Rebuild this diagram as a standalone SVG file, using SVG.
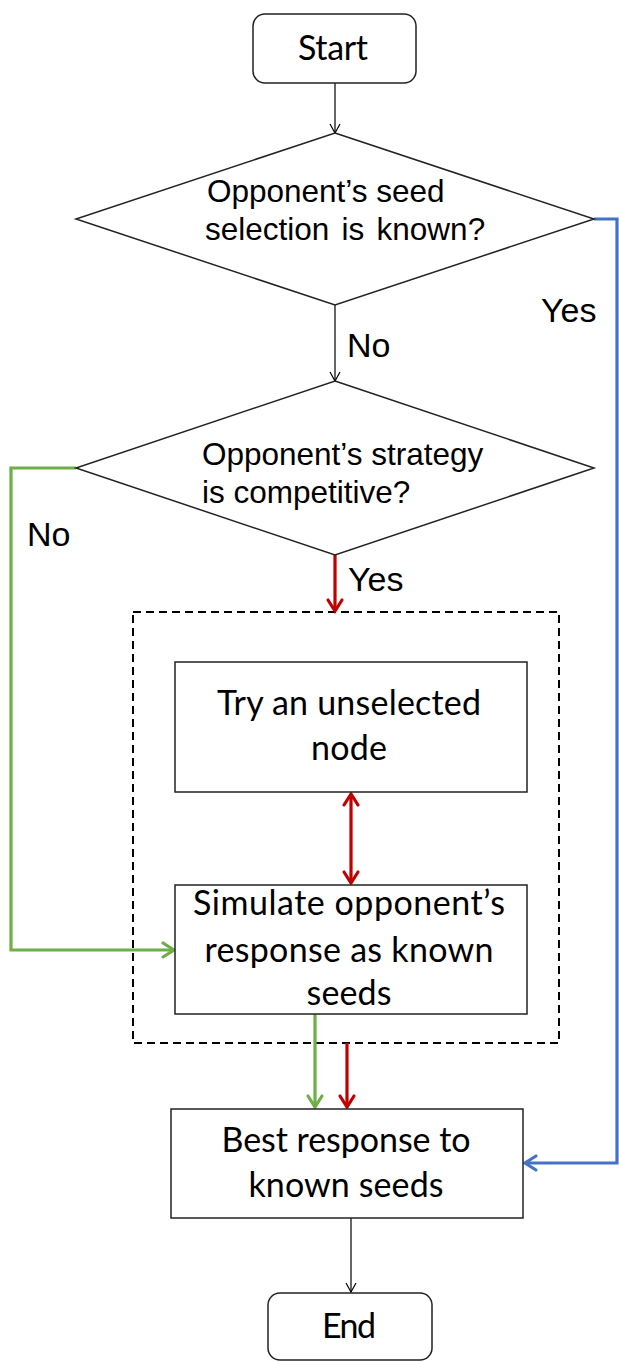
<svg xmlns="http://www.w3.org/2000/svg" width="619" height="1362" viewBox="0 0 619 1362">
<style>
.shape{fill:#fff;stroke:#222;stroke-width:1.5}
.term{fill:#fff;stroke:#222;stroke-width:1.5}
.cal{font-family:Lato,"Open Sans",sans-serif;font-size:34px;fill:#000;text-anchor:middle}
.ari{font-family:"Liberation Sans",Arial,sans-serif;font-size:31.5px;fill:#000}
.lbl{font-family:"Liberation Sans",Arial,sans-serif;font-size:34px;fill:#000}
.blk{stroke:#000;stroke-width:1.2;fill:none}
.red{stroke:#C00000;stroke-width:3.2;fill:none}
.grn{stroke:#70AD47;stroke-width:3.2;fill:none}
.blu{stroke:#4472C4;stroke-width:3.2;fill:none}
</style>
<defs>
<marker id="aBlk" markerUnits="userSpaceOnUse" markerWidth="14" markerHeight="14" viewBox="-12 -7 14 14" refX="0" refY="0" orient="auto"><path d="M-9,-5 L0,0 L-9,5" fill="none" stroke="#000" stroke-width="1.2"/></marker>
<marker id="aRed" markerUnits="userSpaceOnUse" markerWidth="20" markerHeight="20" viewBox="-16 -10 20 20" refX="0" refY="0" orient="auto-start-reverse"><path d="M-11,-7 L0,0 L-11,7" fill="none" stroke="#C00000" stroke-width="3.2" stroke-linecap="round" stroke-linejoin="miter"/></marker>
<marker id="aGrn" markerUnits="userSpaceOnUse" markerWidth="20" markerHeight="20" viewBox="-16 -10 20 20" refX="0" refY="0" orient="auto"><path d="M-11,-7 L0,0 L-11,7" fill="none" stroke="#70AD47" stroke-width="3.2" stroke-linecap="round"/></marker>
<marker id="aBlu" markerUnits="userSpaceOnUse" markerWidth="20" markerHeight="20" viewBox="-16 -10 20 20" refX="0" refY="0" orient="auto"><path d="M-11,-7 L0,0 L-11,7" fill="none" stroke="#4472C4" stroke-width="3.2" stroke-linecap="round"/></marker>
</defs>
<rect width="619" height="1362" fill="#fff"/>

<g id="group-box">
<rect x="133" y="612" width="426" height="431" fill="none" stroke="#000" stroke-width="2" stroke-dasharray="8 5"/>
</g>

<g id="connectors">
<line class="blk" x1="335" y1="83" x2="335" y2="133" marker-end="url(#aBlk)"/>
<line class="blk" x1="335" y1="305" x2="335" y2="381" marker-end="url(#aBlk)"/>
<polyline class="blu" points="594,219 617,219 617,1163 525,1163" marker-end="url(#aBlu)"/>
<polyline class="grn" points="76,468 11,468 11,950 174,950" marker-end="url(#aGrn)"/>
<line class="red" x1="335" y1="555" x2="335" y2="611" marker-end="url(#aRed)"/>
<line class="red" x1="351" y1="794" x2="351" y2="883" marker-start="url(#aRed)" marker-end="url(#aRed)"/>
<line class="grn" x1="315" y1="1014" x2="315" y2="1107" marker-end="url(#aGrn)"/>
<line class="red" x1="347" y1="1043" x2="347" y2="1107" marker-end="url(#aRed)"/>
<line class="blk" x1="351" y1="1218" x2="351" y2="1292" marker-end="url(#aBlk)"/>
<text class="lbl" x="347" y="357">No</text>
<text class="lbl" x="541" y="322">Yes</text>
<text class="lbl" x="27" y="546">No</text>
<text class="lbl" x="348" y="591">Yes</text>
</g>

<g id="start">
<rect class="term" x="253" y="14" width="163" height="69" rx="12"/>
<text class="cal" x="333" y="60" textLength="70">Start</text>
</g>

<g id="decision-known">
<polygon class="shape" points="335,133 594,219 335,305 76,219"/>
<text class="ari" x="207" y="202">Opponent’s seed</text>
<text class="ari" x="205" y="240" word-spacing="3.5">selection is known?</text>
</g>

<g id="decision-competitive">
<polygon class="shape" points="335,381 594,468 335,555 76,468"/>
<text class="ari" x="202" y="465">Opponent’s strategy</text>
<text class="ari" x="202" y="503">is competitive?</text>
</g>

<g id="try-node">
<rect class="shape" x="175" y="662" width="352" height="130"/>
<text class="cal" x="349" y="715" textLength="264">Try an unselected</text>
<text class="cal" x="349" y="760" textLength="76">node</text>
</g>

<g id="simulate">
<rect class="shape" x="175" y="885" width="352" height="129"/>
<text class="cal" x="349" y="915" textLength="312">Simulate opponent’s</text>
<text class="cal" x="349" y="962" textLength="289">response as known</text>
<text class="cal" x="349" y="1005" textLength="85">seeds</text>
</g>

<g id="best-response">
<rect class="shape" x="171" y="1109" width="352" height="109"/>
<text class="cal" x="346" y="1152" textLength="249">Best response to</text>
<text class="cal" x="346" y="1197" textLength="195">known seeds</text>
</g>

<g id="end">
<rect class="term" x="268" y="1293" width="164" height="67" rx="12"/>
<text class="cal" x="349" y="1338" textLength="54">End</text>
</g>
</svg>
